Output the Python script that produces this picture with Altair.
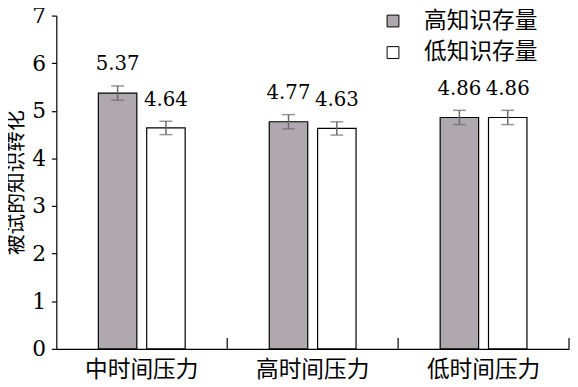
import altair as alt
import pandas as pd

conditions = ["中时间压力", "高时间压力", "低时间压力"]
groups = ["高知识存量", "低知识存量"]
high_vals = [5.37, 4.77, 4.86]
low_vals = [4.64, 4.63, 4.86]
high_err = [0.15, 0.15, 0.15]
low_err = [0.14, 0.14, 0.15]
y_ticks = [0, 1, 2, 3, 4, 5, 6, 7]

rows = []
for i, c in enumerate(conditions):
    for g, vals, errs in ((groups[0], high_vals, high_err), (groups[1], low_vals, low_err)):
        rows.append({"cond": c, "grp": g, "val": vals[i],
                     "lo": vals[i] - errs[i], "hi": vals[i] + errs[i]})
df = pd.DataFrame(rows)

W, H = 520, 338
NUM_FONT = "DejaVu Serif"
CJK_FONT = "Noto Sans CJK SC"

x = alt.X("cond:N", sort=conditions, title=None,
          scale=alt.Scale(paddingInner=0, paddingOuter=0),
          axis=alt.Axis(labelAngle=0, labelFontSize=23, labelPadding=10, ticks=False,
                        domainColor="black", domainWidth=1.2, labelColor="black",
                        labelFont=CJK_FONT))
xo = alt.XOffset("grp:N", sort=groups,
                 scale=alt.Scale(paddingInner=0.204, paddingOuter=0.87))
y_scale = alt.Scale(domain=[0, 7], nice=False)

base = alt.Chart(df)

bars = base.mark_bar(stroke="black", strokeWidth=1.2).encode(
    x=x, xOffset=xo,
    y=alt.Y("val:Q", scale=y_scale, title="被试的知识转化",
            axis=alt.Axis(values=y_ticks, grid=False, tickSize=5, tickColor="black",
                          tickWidth=1.2, domainColor="black", domainWidth=1.2,
                          labelFontSize=22, labelPadding=6, labelColor="black",
                          labelFont=NUM_FONT, titleFont=CJK_FONT,
                          titleFontSize=21, titleFontWeight="normal", titlePadding=5,
                          titleColor="black")),
    fill=alt.Fill("grp:N", sort=groups,
                  scale=alt.Scale(domain=groups, range=["#afa9af", "#ffffff"]),
                  legend=alt.Legend(title=None, orient="none", legendX=330, legendY=-6,
                                    symbolType="square", symbolSize=144,
                                    symbolStrokeColor="black", symbolStrokeWidth=1,
                                    labelFontSize=23, labelOffset=20, rowPadding=8,
                                    labelColor="black", labelFont=CJK_FONT, padding=0)),
)

err = base.mark_rule(color="#6a6a6a", strokeWidth=1.5).encode(
    x=x, xOffset=xo, y=alt.Y("lo:Q", scale=y_scale), y2="hi:Q")
cap_lo = base.mark_tick(color="#6a6a6a", thickness=1.5, size=13).encode(
    x=x, xOffset=xo, y=alt.Y("lo:Q", scale=y_scale))
cap_hi = base.mark_tick(color="#6a6a6a", thickness=1.5, size=13).encode(
    x=x, xOffset=xo, y=alt.Y("hi:Q", scale=y_scale))

labels = base.mark_text(fontSize=20, dy=-16, baseline="alphabetic", color="black",
                        font=NUM_FONT).encode(
    x=x, xOffset=xo, y=alt.Y("hi:Q", scale=y_scale),
    text=alt.Text("val:Q", format=".2f"))

edge_df = pd.DataFrame({"cond": conditions})
edges = alt.Chart(edge_df).mark_rule(color="black", strokeWidth=1.2).encode(
    x=alt.X("cond:N", sort=conditions, bandPosition=1),
    y=alt.value(H), y2=alt.value(H - 11))

chart = alt.layer(bars, err, cap_lo, cap_hi, labels, edges).properties(
    width=W, height=H,
    autosize=alt.AutoSizeParams(type="none"),
    padding={"left": 49, "top": 5, "right": 1, "bottom": 36},
).configure_view(stroke=None).configure_axisY(labelFont=NUM_FONT)

chart.save("out.html", embed_options={"renderer": "svg", "actions": False})
